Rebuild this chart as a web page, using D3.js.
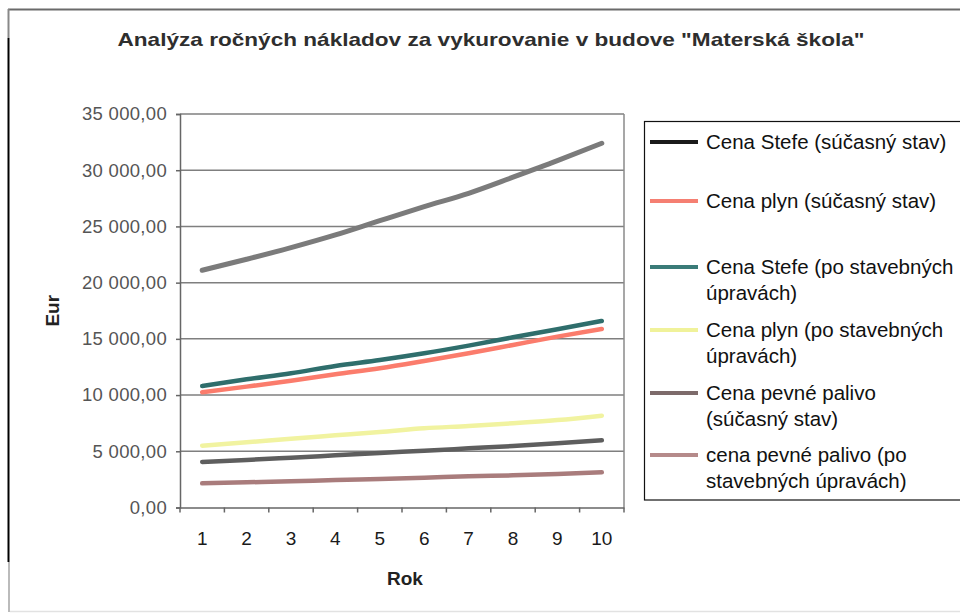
<!DOCTYPE html>
<html><head><meta charset="utf-8">
<script src="https://cdn.jsdelivr.net/npm/d3@7"></script>
<style>body{margin:0;background:#fff;}svg{display:block;font-family:Arial,"Liberation Sans",sans-serif;}</style>
</head><body>
<svg id="c" width="960" height="616"></svg>
<script>
const years = [1,2,3,4,5,6,7,8,9,10];
const yTicks = [0,5000,10000,15000,20000,25000,30000,35000];
const seriesNames = [
  ["Cena Stefe (súčasný stav)"],
  ["Cena plyn (súčasný stav)"],
  ["Cena Stefe (po stavebných","úpravách)"],
  ["Cena plyn (po stavebných","úpravách)"],
  ["Cena pevné palivo","(súčasný stav)"],
  ["cena pevné palivo (po","stavebných úpravách)"]
];
const stefeNow   = [21100,22080,23110,24240,25510,26760,27950,29380,30850,32400];
const plynNow    = [10250,10750,11280,11850,12380,13030,13720,14460,15200,15880];
const stefeAfter = [10810,11400,11940,12590,13120,13720,14400,15140,15850,16590];
const plynAfter  = [5500,5800,6120,6420,6720,7050,7250,7490,7780,8170];
const pevneNow   = [4050,4225,4430,4640,4850,5050,5260,5470,5710,5980];
const pevneAfter = [2150,2240,2330,2450,2540,2650,2780,2860,2980,3130];
const seriesData = [stefeNow, plynNow, stefeAfter, plynAfter, pevneNow, pevneAfter];
const lineColors = ["#7b7b7b","#fb7c6c","#2f6e6c","#f1f3a0","#5e5e5e","#a97c7c"];
const swatchColors = ["#1a1a1a","#f57f72","#3a7b78","#f0f29a","#7d6b6b","#b58a8a"];

const svg = d3.select("#c");
const L=180, R=624, T=114, B=507.5;
const x = d3.scaleBand().domain(years).range([L,R]);
const y = d3.scaleLinear().domain([0,35000]).range([B,T]);

// outer frame
svg.append("line").attr("x1",8).attr("x2",960).attr("y1",9.5).attr("y2",9.5).attr("stroke","#6a6a6a").attr("stroke-width",2);
svg.append("line").attr("x1",8.5).attr("x2",8.5).attr("y1",9).attr("y2",38).attr("stroke","#888").attr("stroke-width",2);
svg.append("line").attr("x1",8.5).attr("x2",8.5).attr("y1",38).attr("y2",562).attr("stroke","#000").attr("stroke-width",2);
svg.append("line").attr("x1",9).attr("x2",9).attr("y1",562).attr("y2",612).attr("stroke","#bbb").attr("stroke-width",2);
svg.append("line").attr("x1",10).attr("x2",960).attr("y1",611.5).attr("y2",611.5).attr("stroke","#e2e2e2").attr("stroke-width",1.5);

// title
svg.append("text").attr("x",491).attr("y",46).attr("text-anchor","middle")
  .attr("font-size",19).attr("font-weight","bold").attr("fill","#2e2e2e")
  .attr("textLength",747).attr("lengthAdjust","spacingAndGlyphs")
  .text('Analýza ročných nákladov za vykurovanie v budove "Materská škola"');

// gridlines
svg.append("g").selectAll("line").data(yTicks.filter(d=>d>0)).join("line")
  .attr("x1",L).attr("x2",R).attr("y1",d=>y(d)).attr("y2",d=>y(d))
  .attr("stroke","#7f7f7f").attr("stroke-width",1.5);
// right border
svg.append("line").attr("x1",R).attr("x2",R).attr("y1",T).attr("y2",B).attr("stroke","#8a8a8a").attr("stroke-width",1.5);

// y axis
const fmt = d => d3.format(",.2f")(d).replace(/,/g," ").replace(".",",");
const yAxis = svg.append("g").attr("transform",`translate(${L},0)`)
  .call(d3.axisLeft(y).tickValues(yTicks).tickSize(4).tickPadding(9).tickFormat(fmt));
yAxis.select(".domain").attr("stroke","#666").attr("stroke-width",1.5);
yAxis.selectAll(".tick line").attr("stroke","#666").attr("stroke-width",1.5);
yAxis.selectAll("text").attr("font-size",18.5).attr("fill","#555").attr("font-family","Arial, 'Liberation Sans', sans-serif").attr("letter-spacing","0.3px");

// x axis
const xAxis = svg.append("g").attr("transform",`translate(0,${B})`)
  .call(d3.axisBottom(x).tickSize(0).tickPadding(24));
xAxis.select(".domain").attr("stroke","#666").attr("stroke-width",1.5);
xAxis.selectAll("text").attr("font-size",19).attr("fill","#1a1a1a").attr("font-family","Arial, 'Liberation Sans', sans-serif");
// x tick marks at band boundaries
const bounds = years.map(d=>x(d)).concat([R]);
svg.append("g").selectAll("line").data(bounds).join("line")
  .attr("x1",d=>d).attr("x2",d=>d).attr("y1",B).attr("y2",B+5)
  .attr("stroke","#666").attr("stroke-width",1.5);

// axis titles
svg.append("text").attr("x",405).attr("y",585).attr("text-anchor","middle")
  .attr("font-size",19).attr("font-weight","bold").attr("fill","#222").text("Rok");
svg.append("text").attr("transform",`translate(59,${(T+B)/2}) rotate(-90)`).attr("text-anchor","middle")
  .attr("font-size",19).attr("font-weight","bold").attr("fill","#222").text("Eur");

// lines
const line = d3.line().x((d,i)=>x(years[i])+x.bandwidth()/2).y(d=>y(d)).curve(d3.curveMonotoneX);
const order = [0,3,1,2,4,5];
svg.append("g").selectAll("path").data(order).join("path")
  .attr("d",i=>line(seriesData[i])).attr("fill","none")
  .attr("stroke",i=>lineColors[i]).attr("stroke-width",i=>i===0?5:4.5).attr("stroke-linecap","round");

// legend
svg.append("rect").attr("x",644.5).attr("y",121.5).attr("width",330).attr("height",378.5)
  .attr("fill","#fff").attr("stroke","#111").attr("stroke-width",1.2);
const legY = [142,201,267,330,393,455];
const lg = svg.append("g").selectAll("g").data(seriesNames).join("g")
  .attr("transform",(d,i)=>`translate(650,${legY[i]})`);
lg.append("line").attr("x1",0).attr("x2",48).attr("y1",0).attr("y2",0)
  .attr("stroke",(d,i)=>swatchColors[i]).attr("stroke-width",4);
lg.each(function(d){
  const t = d3.select(this).append("text").attr("x",56).attr("y",7)
    .attr("font-size",20.5).attr("fill","#111");
  d.forEach((s,j)=>t.append("tspan").attr("x",56).attr("dy",j===0?0:26).text(s));
});
</script>
</body></html>
